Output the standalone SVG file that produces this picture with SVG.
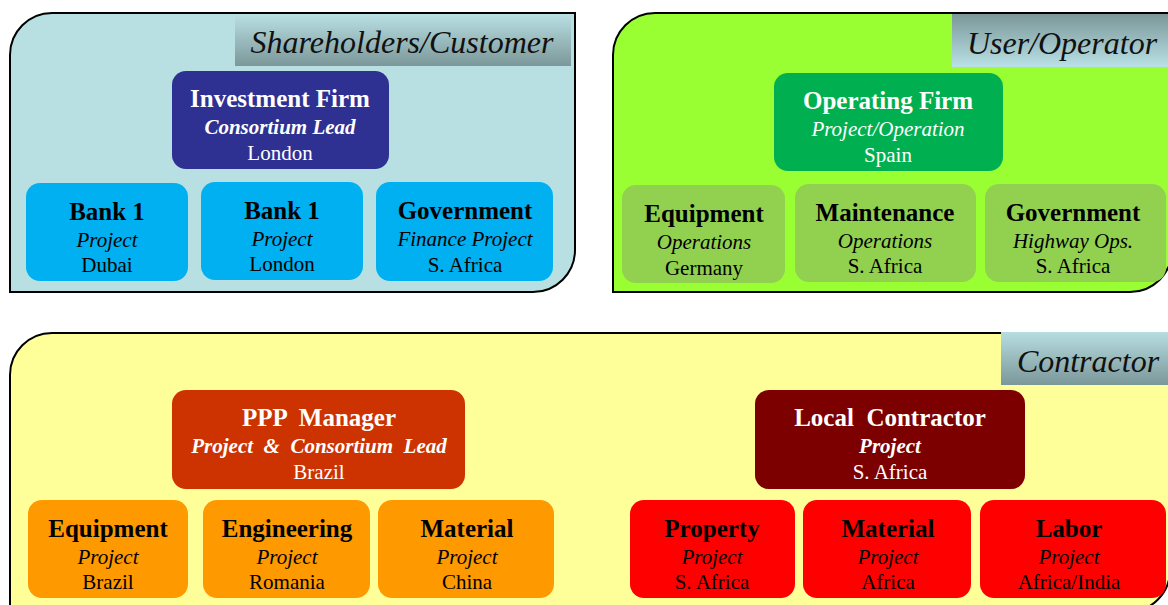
<svg xmlns="http://www.w3.org/2000/svg" width="1168" height="605" viewBox="0 0 1168 605">
  <defs>
    <linearGradient id="tagDown" x1="0" y1="0" x2="0" y2="1">
      <stop offset="0" stop-color="#b7dde1"/>
      <stop offset="1" stop-color="#7b9799"/>
    </linearGradient>
    <linearGradient id="tagUp" x1="0" y1="0" x2="0" y2="1">
      <stop offset="0" stop-color="#7b9799"/>
      <stop offset="1" stop-color="#b9e1e6"/>
    </linearGradient>
    <style>
      .panel { stroke: #000; stroke-width: 2; }
      .tag { font-family: "Liberation Serif", serif; font-style: italic; font-size: 32px; fill: #111; text-anchor: middle; }
      .box { stroke: none; }
      .t { font-family: "Liberation Serif", serif; text-anchor: middle; white-space: pre; }
      .h { font-weight: bold; font-size: 25px; }
      .s { font-style: italic; font-size: 21px; }
      .sb { font-style: italic; font-weight: bold; font-size: 21px; }
      .p { font-size: 21px; }
      .w { fill: #fff; }
      .k { fill: #000; }
    </style>
  </defs>

  <rect width="1168" height="605" fill="#fff"/>

  <!-- Shareholders / Customer panel -->
  <g id="panel-shareholders">
    <path class="panel" fill="#b8e0e2" d="M10,292 V55 A42,42 0 0 1 52,13 H575 V250 A42,42 0 0 1 533,292 Z"/>
    <rect x="235" y="16" width="336" height="50" fill="url(#tagDown)"/>
    <text class="tag" x="402" y="53">Shareholders/Customer</text>
  </g>

  <!-- User / Operator panel -->
  <g id="panel-operator">
    <path class="panel" fill="#99ff33" d="M613,292 V55 A42,42 0 0 1 655,13 H1172 V250 A42,42 0 0 1 1130,292 Z"/>
    <rect x="952" y="14" width="216" height="53" fill="url(#tagUp)"/>
    <text class="tag" x="1062" y="54">User/Operator</text>
  </g>

  <!-- Contractor panel -->
  <g id="panel-contractor">
    <path class="panel" fill="#ffff99" d="M10,612 V375 A42,42 0 0 1 52,333 H1170 V570 A42,42 0 0 1 1128,612 Z"/>
    <rect x="1001" y="332" width="167" height="53" fill="url(#tagDown)"/>
    <text class="tag" x="1088" y="372">Contractor</text>
  </g>

  <!-- Shareholders nodes -->
  <g id="investment-firm">
    <rect class="box" x="172" y="71" width="217" height="98" rx="14" fill="#2e3192"/>
    <text class="t h w" x="280" y="107">Investment Firm</text>
    <text class="t sb w" x="280" y="134">Consortium Lead</text>
    <text class="t p w" x="280" y="160">London</text>
  </g>
  <g id="bank-dubai">
    <rect class="box" x="26" y="183" width="162" height="98" rx="14" fill="#00b0f0"/>
    <text class="t h k" x="107" y="220">Bank 1</text>
    <text class="t s k" x="107" y="247">Project</text>
    <text class="t p k" x="107" y="272">Dubai</text>
  </g>
  <g id="bank-london">
    <rect class="box" x="201" y="182" width="162" height="98" rx="14" fill="#00b0f0"/>
    <text class="t h k" x="282" y="219">Bank 1</text>
    <text class="t s k" x="282" y="246">Project</text>
    <text class="t p k" x="282" y="271">London</text>
  </g>
  <g id="government-finance">
    <rect class="box" x="376" y="182" width="177" height="99" rx="14" fill="#00b0f0"/>
    <text class="t h k" x="465" y="219">Government</text>
    <text class="t s k" x="465" y="246">Finance Project</text>
    <text class="t p k" x="465" y="272">S. Africa</text>
  </g>

  <!-- Operator nodes -->
  <g id="operating-firm">
    <rect class="box" x="774" y="73" width="229" height="98" rx="14" fill="#00b050"/>
    <text class="t h w" x="888" y="109">Operating Firm</text>
    <text class="t s w" x="888" y="136">Project/Operation</text>
    <text class="t p w" x="888" y="162">Spain</text>
  </g>
  <g id="equipment-ops">
    <rect class="box" x="622" y="185" width="163" height="98" rx="14" fill="#92d050"/>
    <text class="t h k" x="704" y="222">Equipment</text>
    <text class="t s k" x="704" y="249">Operations</text>
    <text class="t p k" x="704" y="275">Germany</text>
  </g>
  <g id="maintenance-ops">
    <rect class="box" x="795" y="184" width="181" height="98" rx="14" fill="#92d050"/>
    <text class="t h k" x="885" y="221">Maintenance</text>
    <text class="t s k" x="885" y="248">Operations</text>
    <text class="t p k" x="885" y="273">S. Africa</text>
  </g>
  <g id="government-highway">
    <rect class="box" x="985" y="184" width="181" height="98" rx="14" fill="#92d050"/>
    <text class="t h k" x="1073" y="221">Government</text>
    <text class="t s k" x="1073" y="248">Highway Ops.</text>
    <text class="t p k" x="1073" y="273">S. Africa</text>
  </g>

  <!-- Contractor nodes -->
  <g id="ppp-manager">
    <rect class="box" x="172" y="390" width="293" height="99" rx="14" fill="#cc3300"/>
    <text class="t h w" x="319" y="426">PPP  Manager</text>
    <text class="t sb w" x="319" y="453">Project  &amp;  Consortium  Lead</text>
    <text class="t p w" x="319" y="479">Brazil</text>
  </g>
  <g id="equipment-project">
    <rect class="box" x="28" y="500" width="160" height="98" rx="14" fill="#ff9900"/>
    <text class="t h k" x="108" y="537">Equipment</text>
    <text class="t s k" x="108" y="564">Project</text>
    <text class="t p k" x="108" y="589">Brazil</text>
  </g>
  <g id="engineering-project">
    <rect class="box" x="203" y="500" width="167" height="98" rx="14" fill="#ff9900"/>
    <text class="t h k" x="287" y="537">Engineering</text>
    <text class="t s k" x="287" y="564">Project</text>
    <text class="t p k" x="287" y="589">Romania</text>
  </g>
  <g id="material-china">
    <rect class="box" x="378" y="500" width="176" height="98" rx="14" fill="#ff9900"/>
    <text class="t h k" x="467" y="537">Material</text>
    <text class="t s k" x="467" y="564">Project</text>
    <text class="t p k" x="467" y="589">China</text>
  </g>
  <g id="local-contractor">
    <rect class="box" x="755" y="390" width="270" height="99" rx="14" fill="#7d0000"/>
    <text class="t h w" x="890" y="426">Local  Contractor</text>
    <text class="t sb w" x="890" y="453">Project</text>
    <text class="t p w" x="890" y="479">S. Africa</text>
  </g>
  <g id="property-project">
    <rect class="box" x="630" y="500" width="165" height="98" rx="14" fill="#ff0000"/>
    <text class="t h k" x="712" y="537">Property</text>
    <text class="t s k" x="712" y="564">Project</text>
    <text class="t p k" x="712" y="589">S. Africa</text>
  </g>
  <g id="material-africa">
    <rect class="box" x="803" y="500" width="168" height="98" rx="14" fill="#ff0000"/>
    <text class="t h k" x="888" y="537">Material</text>
    <text class="t s k" x="888" y="564">Project</text>
    <text class="t p k" x="888" y="589">Africa</text>
  </g>
  <g id="labor-project">
    <rect class="box" x="980" y="500" width="186" height="98" rx="14" fill="#ff0000"/>
    <text class="t h k" x="1069" y="537">Labor</text>
    <text class="t s k" x="1069" y="564">Project</text>
    <text class="t p k" x="1069" y="589">Africa/India</text>
  </g>

  <!-- no connectors are drawn in this chart -->
  <g id="connectors"/>
</svg>
